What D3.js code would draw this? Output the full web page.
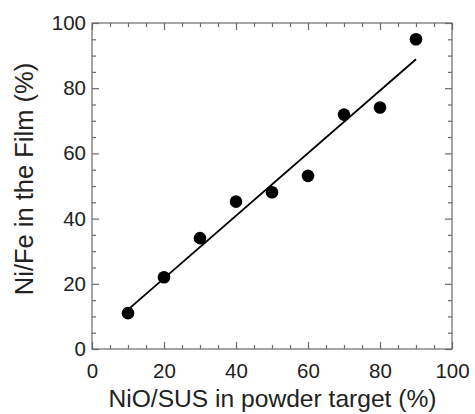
<!DOCTYPE html>
<html><head><meta charset="utf-8">
<script src="https://cdn.jsdelivr.net/npm/d3@7"></script>
<style>body{margin:0;background:#fff}svg{display:block}text{font-family:"Liberation Sans",Arial,sans-serif}</style>
</head><body>
<svg id="c" width="475" height="414"></svg>
<script>
const xValues = [10, 20, 30, 40, 50, 60, 70, 80, 90];
const yValues = [11, 22, 34, 45.2, 48.1, 53.1, 71.9, 74.1, 95];
const tickLabels = [0, 20, 40, 60, 80, 100];
const xTitle = "NiO/SUS in powder target (%)";
const yTitle = "Ni/Fe in the Film (%)";

const svg = d3.select("#c");
const L = 92, R = 452, T = 23, B = 349;
const x = d3.scaleLinear().domain([0, 100]).range([L, R]);
const y = d3.scaleLinear().domain([0, 100]).range([B, T]);
const axisCol = "#6a6a6a", textCol = "#222";

svg.append("rect").attr("x", L).attr("y", T).attr("width", R - L).attr("height", B - T)
  .attr("fill", "none").attr("stroke", axisCol).attr("stroke-width", 1.2);

const minor = d3.range(0, 101, 5).filter(v => v % 20 !== 0);
function addAxis(axisGen, tx, ty, showLabels, pad) {
  const g = svg.append("g").attr("transform", `translate(${tx},${ty})`);
  g.call(axisGen.tickValues(tickLabels).tickSize(-7).tickPadding(pad)
    .tickFormat(showLabels ? d3.format("d") : ""));
  g.select(".domain").remove();
  g.selectAll(".tick line").attr("stroke", axisCol).attr("stroke-width", 1.2);
  g.selectAll(".tick text").attr("fill", textCol).style("font-size", "20.5px");
}
function addMinor(axisGen, tx, ty) {
  const g = svg.append("g").attr("transform", `translate(${tx},${ty})`);
  g.call(axisGen.tickValues(minor).tickSize(-4).tickFormat(""));
  g.select(".domain").remove();
  g.selectAll(".tick line").attr("stroke", axisCol).attr("stroke-width", 1.2);
}
addAxis(d3.axisBottom(x), 0, B, true, 14);
addMinor(d3.axisBottom(x), 0, B);
addAxis(d3.axisTop(x), 0, T, false, 0);
addMinor(d3.axisTop(x), 0, T);
addAxis(d3.axisLeft(y), L, 0, true, 6);
addMinor(d3.axisLeft(y), L, 0);
addAxis(d3.axisRight(y), R, 0, false, 0);
addMinor(d3.axisRight(y), R, 0);

// least-squares line through the data
const mx = d3.mean(xValues), my = d3.mean(yValues);
const sxy = d3.sum(xValues, (v, i) => (v - mx) * (yValues[i] - my));
const sxx = d3.sum(xValues, v => (v - mx) * (v - mx));
const slope = sxy / sxx, icpt = my - slope * mx;
const x0 = d3.min(xValues), x1 = d3.max(xValues);
svg.append("line").attr("x1", x(x0)).attr("y1", y(icpt + slope * x0))
  .attr("x2", x(x1)).attr("y2", y(icpt + slope * x1))
  .attr("stroke", "#000").attr("stroke-width", 1.8);

svg.append("g").selectAll("circle").data(xValues).join("circle")
  .attr("cx", d => x(d)).attr("cy", (d, i) => y(yValues[i])).attr("r", 6.3).attr("fill", "#000");

svg.append("text").attr("x", (L + R) / 2 + 0.5).attr("y", 407).attr("text-anchor", "middle")
  .attr("fill", textCol).style("font-size", "24.6px").text(xTitle);
svg.append("text").attr("transform", `translate(33,179) rotate(-90)`)
  .attr("text-anchor", "middle").attr("fill", textCol).style("font-size", "25.5px").text(yTitle);
</script>
</body></html>
